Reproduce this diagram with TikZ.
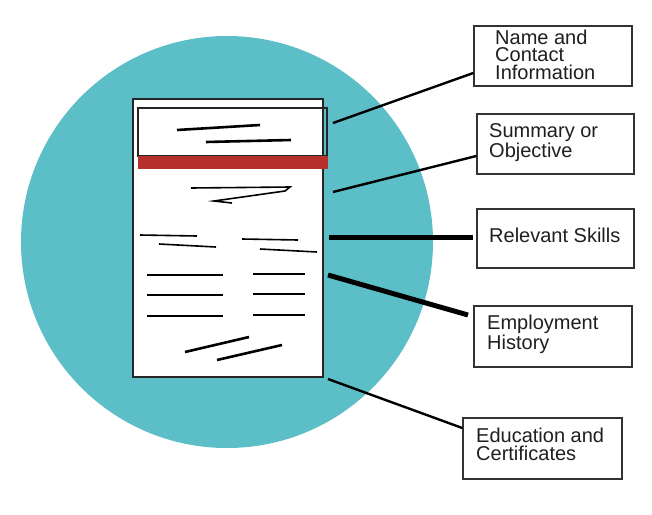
\documentclass[tikz,border=0pt]{standalone}
\usepackage{fontspec}
\setmainfont{Liberation Sans}
\definecolor{tealc}{RGB}{92,190,198}
\definecolor{redbar}{RGB}{184,48,44}
\definecolor{boxline}{RGB}{50,50,50}
\begin{document}
\begin{tikzpicture}[x=1pt,y=-1pt,
  box/.style={draw=boxline,line width=1.4pt,rectangle,inner sep=0pt,fill=white},
  lbl/.style={anchor=base west,inner sep=0pt,align=left,text=black!88,font=\fontsize{20}{17.3}\selectfont},
  conn/.style={draw=black,line width=2.4pt},
  thick conn/.style={draw=black,line width=5pt},
  scrib/.style={draw=black,line width=2.6pt},
  thinscrib/.style={draw=black,line width=1.6pt}]
\useasboundingbox (0,0) rectangle (652,514);
% circle
\node[circle,fill=tealc,minimum size=412pt,inner sep=0pt] (circ) at (227,242) {};
% page
\node[box,draw=black!85,line width=1.6pt,minimum width=190pt,minimum height=278pt] (page) at (228,238) {};
\node[box,draw=black!85,line width=1.6pt,fill=none,minimum width=189pt,minimum height=48pt] (head) at (232.5,132) {};
\node[rectangle,fill=redbar,inner sep=0pt,minimum width=190pt,minimum height=13pt] (bar) at (233,162.5) {};
% scribbles
\draw[scrib] (177,130) -- (260,125);
\draw[scrib] (206,142) -- (291,140);
\draw[thinscrib,line join=miter] (191,188) -- (290,187) -- (285,191) -- (214,201) -- (232,203);
\draw[thinscrib] (140,235) -- (197,236);
\draw[thinscrib] (159,244) -- (216,247);
\draw[thinscrib] (242,239) -- (298,240);
\draw[thinscrib] (260,249) -- (317,252);
\foreach \y in {275,295,316} \draw[scrib] (147,\y) -- (223,\y);
\foreach \y in {274,294,315} \draw[scrib] (253,\y) -- (305,\y);
\draw[scrib] (185,352) -- (249,337);
\draw[scrib] (217,360) -- (282,345);
% boxes
\node[box,minimum width=158pt,minimum height=60pt] (b1) at (553,56) {};
\node[box,minimum width=157pt,minimum height=60pt] (b2) at (555.5,144) {};
\node[box,minimum width=157pt,minimum height=59pt] (b3) at (555.5,238.5) {};
\node[box,minimum width=158pt,minimum height=61pt] (b4) at (553,336.5) {};
\node[box,minimum width=159pt,minimum height=61pt] (b5) at (542.5,448.5) {};
% labels (base anchor = baseline of last line)
\node[lbl] (t1) at (495,79) {Name and\\Contact\\Information};
\node[lbl] (t2) at (489,157) {Summary or\\Objective};
\node[lbl] (t3) at (489,242) {Relevant Skills};
\node[lbl] (t4) at (487,349) {Employment\\History};
\node[lbl] (t5) at (476,460) {Education and\\Certificates};
% connector ends
\coordinate (s1) at (333,123);
\coordinate (s2) at (333,192);
\coordinate (s3) at (329,237);
\coordinate (s4) at (328,275);
\coordinate (s5) at (328,379);
\coordinate (e1) at (b1.west |- 0,73);
\coordinate (e2) at (b2.west |- 0,156);
\coordinate (e3) at (473,237);
\coordinate (e4) at (468,315);
\coordinate (e5) at (b5.west |- 0,428);
\draw[conn] (s1) -- (e1);
\draw[conn] (s2) -- (e2);
\draw[thick conn] (s3) -- (e3);
\draw[thick conn] (s4) -- (e4);
\draw[conn] (s5) -- (e5);
\end{tikzpicture}
\end{document}
